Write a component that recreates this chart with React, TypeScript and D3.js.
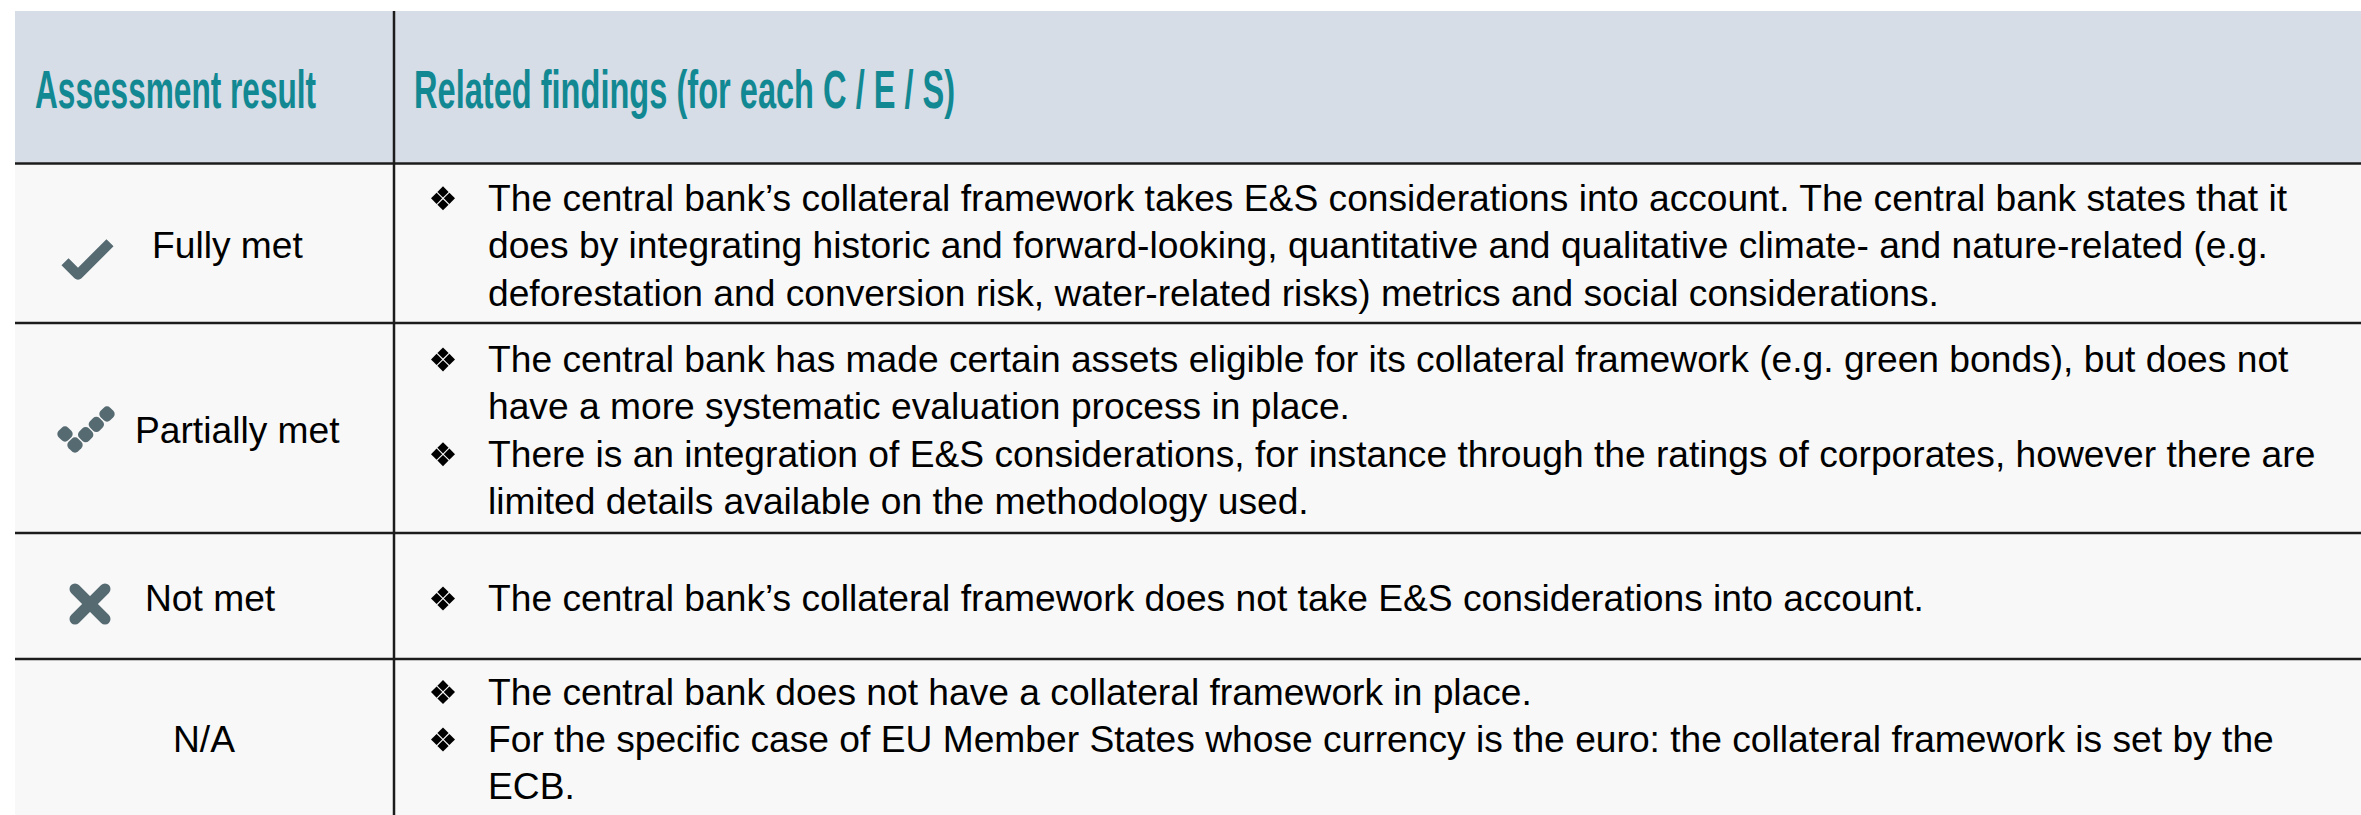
import React, { useEffect, useLayoutEffect, useRef, useState } from 'react';
import * as d3 from 'd3';

// Assessment scale table: result labels on the left, findings per result on the right.

const headerLabels = ['Assessment result', 'Related findings (for each C / E / S)'];

const assessmentResults = ['Fully met', 'Partially met', 'Not met', 'N/A'];

const resultIcons = ['check', 'partial', 'cross', 'none'];

// each result -> list of bullets -> wrapped lines of each bullet
const fullyMetFindings = [
  [
    'The central bank’s collateral framework takes E&S considerations into account. The central bank states that it',
    'does by integrating historic and forward-looking, quantitative and qualitative climate- and nature-related (e.g.',
    'deforestation and conversion risk, water-related risks) metrics and social considerations.',
  ],
];

const partiallyMetFindings = [
  [
    'The central bank has made certain assets eligible for its collateral framework (e.g. green bonds), but does not',
    'have a more systematic evaluation process in place.',
  ],
  [
    'There is an integration of E&S considerations, for instance through the ratings of corporates, however there are',
    'limited details available on the methodology used.',
  ],
];

const notMetFindings = [
  ['The central bank’s collateral framework does not take E&S considerations into account.'],
];

const naFindings = [
  ['The central bank does not have a collateral framework in place.'],
  [
    'For the specific case of EU Member States whose currency is the euro: the collateral framework is set by the',
    'ECB.',
  ],
];

const findingsByResult = [fullyMetFindings, partiallyMetFindings, notMetFindings, naFindings];

// layout
const W = 2361;
const H = 815;
const tableLeft = 15;
const tableTop = 11;
const headerH = 152.5;
const rowHeights = [159.5, 210, 126, 156];
const colSplit = 394;
const bulletX = 443;
const textX = 488;
const lineGap = 47.4;
const labelX = [152, 135, 145, 204];
const iconCx = [88, 86, 90, 0];
const iconDy = [15.5, 3, 8, 0];
const headerX = [35, 414];
const headerWidths = [281, 541];

const TEAL = '#128893';
const ICON = '#566a72';
const RULE = '#1c1c1c';
const BODY_FONT = '"Liberation Sans", Arial, Helvetica, sans-serif';
const BODY_SIZE = 37.2;

function HeaderText({ x, y, width, children }: { x: number; y: number; width: number; children: string }) {
  const ref = useRef<SVGTextElement>(null);
  const [sx, setSx] = useState(0.61);
  useLayoutEffect(() => {
    if (!ref.current) return;
    const natural = ref.current.getComputedTextLength();
    if (natural > 0) setSx(width / natural);
  }, [width, children]);
  return (
    <text
      ref={ref}
      transform={`translate(${x},${y}) scale(${sx},1)`}
      fill={TEAL}
      fontFamily={BODY_FONT}
      fontWeight="bold"
      fontSize={53}
    >
      {children}
    </text>
  );
}

function Bullet({ cx, cy }: { cx: number; cy: number }) {
  const r = 5.6;
  const o = 6.4;
  const offs = [[0, -o], [o, 0], [0, o], [-o, 0]];
  return (
    <g fill="#000">
      {offs.map(([dx, dy], i) => (
        <path
          key={i}
          d={`M${cx + dx},${cy + dy - r}L${cx + dx + r},${cy + dy}L${cx + dx},${cy + dy + r}L${cx + dx - r},${cy + dy}Z`}
        />
      ))}
    </g>
  );
}

function Icon({ kind, cx, cy }: { kind: string; cx: number; cy: number }) {
  if (kind === 'check') {
    const line = d3.line();
    const pts: [number, number][] = [[cx - 23, cy + 3], [cx - 10, cy + 16], [cx + 22, cy - 16]];
    return <path d={line(pts) || ''} fill="none" stroke={ICON} strokeWidth={10} strokeLinejoin="round" />;
  }
  if (kind === 'partial') {
    const a: [number, number] = [cx - 21, cy + 3];
    const v: [number, number] = [cx - 11, cy + 14];
    const b: [number, number] = [cx + 21, cy - 17];
    const right = d3.range(1, 4).map(i => [v[0] + ((b[0] - v[0]) * i) / 3, v[1] + ((b[1] - v[1]) * i) / 3]);
    const s = 13.5;
    return (
      <g fill={ICON}>
        {[a, v, ...right].map((p, i) => (
          <rect
            key={i}
            x={p[0] - s / 2}
            y={p[1] - s / 2}
            width={s}
            height={s}
            rx={4.5}
            transform={`rotate(45,${p[0]},${p[1]})`}
          />
        ))}
      </g>
    );
  }
  if (kind === 'cross') {
    const s = 15;
    return (
      <g stroke={ICON} strokeWidth={11} strokeLinecap="round">
        <line x1={cx - s} y1={cy - s} x2={cx + s} y2={cy + s} />
        <line x1={cx - s} y1={cy + s} x2={cx + s} y2={cy - s} />
      </g>
    );
  }
  return null;
}

export default function App() {
  useEffect(() => {
    document.body.style.margin = '0';
  }, []);

  const bottoms = Array.from(d3.cumsum(rowHeights), v => v + tableTop + headerH);
  const tops = [tableTop + headerH, ...bottoms.slice(0, -1)];

  return (
    <svg width={W} height={H} style={{ display: 'block', background: '#fff' }}>
      {/* header */}
      <rect x={tableLeft} y={tableTop} width={W - tableLeft} height={headerH} fill="#d6dde7" />
      <rect x={tableLeft} y={tableTop + headerH} width={W - tableLeft} height={H - tableTop - headerH} fill="#f8f8f8" />

      {headerLabels.map((h, i) => (
        <HeaderText key={h} x={headerX[i]} y={108} width={headerWidths[i]}>
          {h}
        </HeaderText>
      ))}

      {assessmentResults.map((label, i) => {
        const mid = (tops[i] + bottoms[i]) / 2;
        const baseline = mid + 15;
        const bullets = findingsByResult[i];
        const nLines = d3.sum(bullets, b => b.length);
        const lineY = d3
          .scaleLinear()
          .domain([0, nLines - 1 || 1])
          .range([baseline - ((nLines - 1) / 2) * lineGap, baseline + ((nLines - 1) / 2) * lineGap]);
        let k = 0;
        return (
          <g key={label}>
            <Icon kind={resultIcons[i]} cx={iconCx[i]} cy={mid + iconDy[i]} />
            <text
              x={labelX[i]}
              y={baseline}
              fontFamily={BODY_FONT}
              fontSize={BODY_SIZE}
              fill="#000"
              textAnchor={resultIcons[i] === 'none' ? 'middle' : 'start'}
            >
              {label}
            </text>
            {bullets.map((lines, bi) => {
              const first = k;
              k += lines.length;
              return (
                <g key={bi}>
                  <Bullet cx={bulletX} cy={lineY(first) - 12.5} />
                  {lines.map((ln, li) => (
                    <text key={li} x={textX} y={lineY(first + li)} fontFamily={BODY_FONT} fontSize={BODY_SIZE} fill="#000">
                      {ln}
                    </text>
                  ))}
                </g>
              );
            })}
          </g>
        );
      })}

      {/* rules */}
      {[tableTop + headerH, ...bottoms.slice(0, -1)].map((y, i) => (
        <line key={i} x1={tableLeft} x2={W} y1={y} y2={y} stroke={RULE} strokeWidth={2.6} />
      ))}
      <line x1={colSplit} x2={colSplit} y1={tableTop} y2={H} stroke={RULE} strokeWidth={2.5} />
    </svg>
  );
}
